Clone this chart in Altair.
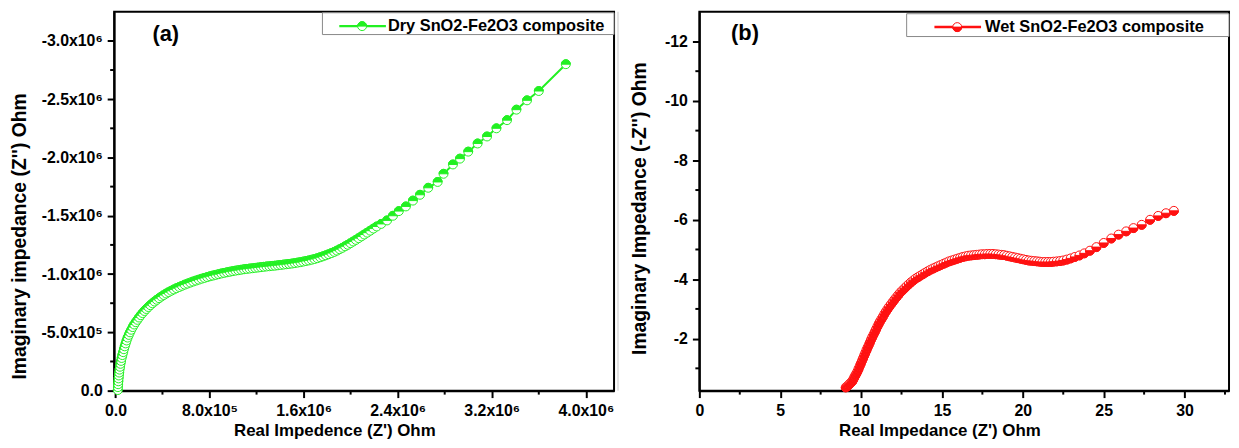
import altair as alt
import pandas as pd

FONT = "Liberation Sans"

# ---------------- data ----------------
# Dry composite: Z' and Z'' in units of 10^6 Ohm
dry_re_M = [0.020, 0.021, 0.023, 0.025, 0.027, 0.029,
            0.032, 0.035, 0.039, 0.043, 0.048, 0.053, 0.059, 0.066, 0.072, 0.079, 0.087, 0.095, 0.104,
            0.114, 0.124, 0.135, 0.147, 0.160, 0.173, 0.187, 0.201, 0.216, 0.231, 0.247, 0.263, 0.280,
            0.297, 0.315, 0.333, 0.352, 0.371, 0.391, 0.411, 0.432, 0.453, 0.475, 0.497, 0.520, 0.543,
            0.566, 0.589, 0.613, 0.637, 0.661, 0.685, 0.709, 0.733, 0.757, 0.781, 0.805, 0.829, 0.853,
            0.877, 0.901, 0.925, 0.949, 0.973, 0.997,
            1.021, 1.045, 1.069, 1.093, 1.117, 1.141, 1.165, 1.189, 1.213, 1.237, 1.261, 1.285, 1.309,
            1.333, 1.357, 1.381, 1.405, 1.429, 1.453, 1.477, 1.501, 1.525, 1.549, 1.573, 1.597, 1.621,
            1.645, 1.669, 1.693, 1.717, 1.741, 1.765, 1.789, 1.813, 1.837, 1.861,
            1.884, 1.907, 1.930, 1.953, 1.976, 1.999, 2.022, 2.045, 2.068, 2.092, 2.116, 2.141, 2.167,
            2.194, 2.222,
            2.260, 2.310, 2.360, 2.410, 2.470, 2.530, 2.590, 2.660, 2.740, 2.790, 2.870, 2.930, 3.000,
            3.080, 3.160, 3.240, 3.330, 3.410, 3.500, 3.600, 3.830]
dry_im_M = [-0.005, -0.030, -0.055, -0.080, -0.105, -0.130,
            -0.155, -0.180, -0.205, -0.230, -0.255, -0.280, -0.305, -0.330, -0.355, -0.380, -0.405, -0.430, -0.455,
            -0.478, -0.500, -0.522, -0.545, -0.567, -0.587, -0.607, -0.627, -0.647, -0.665, -0.683, -0.700, -0.717,
            -0.733, -0.749, -0.764, -0.779, -0.793, -0.807, -0.820, -0.833, -0.845, -0.857, -0.868, -0.879, -0.889,
            -0.899, -0.909, -0.918, -0.927, -0.936, -0.944, -0.952, -0.960, -0.967, -0.974, -0.981, -0.987, -0.993,
            -0.999, -1.005, -1.010, -1.015, -1.020, -1.025,
            -1.029, -1.033, -1.037, -1.041, -1.044, -1.047, -1.050, -1.053, -1.056, -1.059, -1.062, -1.065, -1.067,
            -1.070, -1.072, -1.075, -1.078, -1.081, -1.084, -1.087, -1.090, -1.094, -1.098, -1.102, -1.107, -1.112,
            -1.117, -1.123, -1.129, -1.136, -1.144, -1.152, -1.161, -1.170, -1.180, -1.190,
            -1.201, -1.213, -1.225, -1.238, -1.251, -1.265, -1.279, -1.293, -1.308, -1.323, -1.339, -1.355, -1.372,
            -1.390, -1.408,
            -1.430, -1.460, -1.500, -1.540, -1.580, -1.630, -1.680, -1.740, -1.790, -1.860, -1.940, -1.990, -2.050,
            -2.120, -2.180, -2.250, -2.320, -2.410, -2.490, -2.570, -2.800]

# Wet composite: Z' and -Z'' in Ohm
wet_re = [9.05, 9.12, 9.19, 9.26, 9.33, 9.40, 9.46, 9.52, 9.58, 9.64, 9.70, 9.77, 9.84, 9.91, 9.98,
          10.05, 10.12, 10.19, 10.26, 10.33, 10.40, 10.47, 10.54, 10.61, 10.69,
          10.77, 10.85, 10.93, 11.01, 11.09, 11.17, 11.26, 11.35, 11.44, 11.53, 11.63, 11.73, 11.84, 11.95,
          12.06, 12.18, 12.30, 12.42, 12.55, 12.68, 12.81, 12.95, 13.09, 13.23, 13.37,
          13.52, 13.67, 13.82, 13.97, 14.13, 14.29, 14.45, 14.61, 14.77, 14.93, 15.10, 15.27, 15.44, 15.61,
          15.78, 15.95, 16.12, 16.29, 16.46, 16.63, 16.80, 16.97, 17.14, 17.31, 17.48,
          17.65, 17.82, 17.99, 18.16, 18.33, 18.50, 18.67, 18.84, 19.01, 19.18, 19.35, 19.52, 19.69, 19.86,
          20.03, 20.20, 20.37, 20.54, 20.71, 20.88, 21.05, 21.22, 21.39, 21.56, 21.73, 21.90,
          22.10, 22.30, 22.50, 22.72, 22.96, 23.22, 23.50, 23.80, 24.15, 24.55, 25.00, 25.47, 25.92, 26.39,
          26.84, 27.35, 27.87, 28.37, 28.85, 29.34]
wet_im = [-0.36, -0.39, -0.42, -0.46, -0.50, -0.53, -0.57, -0.63, -0.70, -0.76, -0.82, -0.89, -0.98, -1.07, -1.16,
          -1.25, -1.34, -1.43, -1.52, -1.61, -1.70, -1.78, -1.87, -1.96, -2.05,
          -2.14, -2.23, -2.32, -2.41, -2.50, -2.58, -2.66, -2.74, -2.83, -2.91, -2.99, -3.07, -3.15, -3.23,
          -3.31, -3.39, -3.47, -3.55, -3.62, -3.69, -3.76, -3.83, -3.90, -3.96, -4.02,
          -4.07, -4.12, -4.17, -4.22, -4.27, -4.32, -4.36, -4.40, -4.44, -4.48, -4.52, -4.56, -4.60, -4.63,
          -4.66, -4.69, -4.72, -4.75, -4.77, -4.79, -4.80, -4.81, -4.82, -4.83, -4.84,
          -4.84, -4.85, -4.85, -4.85, -4.84, -4.83, -4.82, -4.81, -4.79, -4.77, -4.75, -4.73, -4.71, -4.69,
          -4.67, -4.65, -4.63, -4.62, -4.61, -4.60, -4.59, -4.58, -4.58, -4.58, -4.58, -4.59,
          -4.60, -4.61, -4.63, -4.66, -4.70, -4.75, -4.80, -4.87, -4.96, -5.08, -5.22, -5.37, -5.50, -5.61,
          -5.72, -5.83, -6.00, -6.13, -6.22, -6.30]

# ticks
dry_xticks = [0, 0.8e6, 1.6e6, 2.4e6, 3.2e6, 4.0e6]
dry_xminor = [0.4e6, 1.2e6, 2.0e6, 2.8e6, 3.6e6]
dry_yticks = [0, -0.5e6, -1.0e6, -1.5e6, -2.0e6, -2.5e6, -3.0e6]
dry_yminor = [-0.25e6, -0.75e6, -1.25e6, -1.75e6, -2.25e6, -2.75e6]
wet_xticks = [0, 5, 10, 15, 20, 25, 30]
wet_xminor = [2.5, 7.5, 12.5, 17.5, 22.5, 27.5, 32.5]
wet_yticks = [-2, -4, -6, -8, -10, -12]
wet_yminor = [-1, -3, -5, -7, -9, -11]

# texts
dry_legend = "Dry SnO2-Fe2O3 composite"
wet_legend = "Wet SnO2-Fe2O3 composite"
dry_xtitle = "Real Impedence (Z') Ohm"
dry_ytitle = "Imaginary impedance (Z'') Ohm"
wet_xtitle = "Real Impedance (Z') Ohm"
wet_ytitle = "Imaginary Impedance (-Z'') Ohm"

GREEN = "#22f022"
RED = "#ff1010"

TOP_HALF = ("M -1 0 L -0.966 -0.259 L -0.866 -0.5 L -0.707 -0.707 L -0.5 -0.866 L -0.259 -0.966 "
            "L 0 -1 L 0.259 -0.966 L 0.5 -0.866 L 0.707 -0.707 L 0.866 -0.5 L 0.966 -0.259 L 1 0 Z")
BOT_HALF = ("M -1 0 L -0.966 0.259 L -0.866 0.5 L -0.707 0.707 L -0.5 0.866 L -0.259 0.966 "
            "L 0 1 L 0.259 0.966 L 0.5 0.866 L 0.707 0.707 L 0.866 0.5 L 0.966 0.259 L 1 0 Z")

SCI_EXPR = ("datum.value == 0 ? '0.0' : ((datum.value < 0 ? '-' : '') + "
            "(abs(datum.value) >= 1000000 ? format(abs(datum.value) / 1000000, '.1f') + 'x10\u2076' "
            ": format(abs(datum.value) / 100000, '.1f') + 'x10\u2075'))")
INT_EXPR = "(datum.value < 0 ? '-' : '') + format(abs(datum.value), 'd')"


def make_axis(values, expr, title, tx, ty, tsize):
    return alt.Axis(values=values, labelExpr=expr, title=title, grid=False, tickSize=7, tickWidth=2,
                    tickColor="black", domainColor="black", domainWidth=2, labelFont=FONT,
                    labelFontSize=16, labelFontWeight="bold", labelColor="black", labelPadding=5,
                    labelFlush=False, labelOverlap=False, titleFont=FONT, titleFontSize=tsize,
                    titleFontWeight="bold", titleColor="black", titleX=tx, titleY=ty,
                    titleBaseline="middle", titleAlign="center")


def panel(re, im, color, half, xdom, ydom, xticks, xminor, yticks, yminor, xexpr, yexpr,
          xtitle, ytitle, w, h, xtx, ytx, yty, legend, leg_box, leg_y, label, label_xy, sep=False):
    df = pd.DataFrame({"x": re, "y": im})
    df["i"] = range(len(df))
    rows = []
    for k, (a, b) in enumerate(zip(re, im)):
        rows.append({"x": a, "y": b, "shp": "circle", "fc": "white", "sc": color, "o": 2 * k})
        rows.append({"x": a, "y": b, "shp": half, "fc": color, "sc": color, "o": 2 * k + 1})
    mdf = pd.DataFrame(rows)

    xs = alt.Scale(domain=xdom, nice=False, zero=False)
    ys = alt.Scale(domain=ydom, nice=False, zero=False)
    xa = make_axis(xticks, xexpr, xtitle, xtx, 40, 17)
    ya = make_axis(yticks, yexpr, ytitle, ytx, yty, 19.5)
    X = alt.X("x:Q", scale=xs, axis=xa)
    Y = alt.Y("y:Q", scale=ys, axis=ya)

    line = alt.Chart(df).mark_line(color=color, strokeWidth=2).encode(x=X, y=Y, order="i:Q")
    pts = alt.Chart(mdf).mark_point(filled=True, size=81, strokeWidth=1, opacity=1).encode(
        x=X, y=Y,
        shape=alt.Shape("shp:N", scale=None),
        fill=alt.Fill("fc:N", scale=None),
        stroke=alt.Stroke("sc:N", scale=None),
        order=alt.Order("o:Q"),
    )
    xm = alt.Chart(pd.DataFrame({"x": xminor})).mark_rule(color="black", strokeWidth=2).encode(
        x=X, y=alt.value(h), y2=alt.value(h + 4))
    ym = alt.Chart(pd.DataFrame({"y": yminor})).mark_rule(color="black", strokeWidth=2).encode(
        y=Y, x=alt.value(-4), x2=alt.value(0))

    one = pd.DataFrame({"k": [0]})
    bx0, bx1, by0, by1, lx0, lx1, mx, tx = leg_box
    box = alt.Chart(one).mark_rect(fill="white", stroke="#888888", strokeWidth=1).encode(
        x=alt.value(bx0), x2=alt.value(bx1), y=alt.value(by0), y2=alt.value(by1))
    lline = alt.Chart(one).mark_rule(color=color, strokeWidth=2.5).encode(
        x=alt.value(lx0), x2=alt.value(lx1), y=alt.value(leg_y))
    lm = pd.DataFrame({"shp": ["circle", half], "fc": ["white", color], "o": [0, 1]})
    lpts = alt.Chart(lm).mark_point(filled=True, size=81, strokeWidth=1, opacity=1, stroke=color).encode(
        x=alt.value(mx), y=alt.value(leg_y),
        shape=alt.Shape("shp:N", scale=None),
        fill=alt.Fill("fc:N", scale=None),
        order=alt.Order("o:Q"),
    )
    ltxt = alt.Chart(pd.DataFrame({"t": [legend]})).mark_text(
        align="left", baseline="middle", font=FONT, fontSize=16.5, fontWeight="bold", color="black"
    ).encode(x=alt.value(tx), y=alt.value(leg_y), text="t:N")
    ptxt = alt.Chart(pd.DataFrame({"t": [label]})).mark_text(
        align="center", baseline="middle", font=FONT, fontSize=22, fontWeight="bold", color="black"
    ).encode(x=alt.value(label_xy[0]), y=alt.value(label_xy[1]), text="t:N")

    layers = [line, pts, xm, ym, box, lline, lpts, ltxt, ptxt]
    if sep:
        sepl = alt.Chart(one).mark_rule(color="#c8c8c8", strokeWidth=1).encode(
            x=alt.value(-82), y=alt.value(0), y2=alt.value(h))
        layers.append(sepl)
    return alt.layer(*layers).properties(width=w, height=h)


W1, W2, H = 504, 534, 382

left = panel(
    [v * 1e6 for v in dry_re_M], [v * 1e6 for v in dry_im_M], GREEN, TOP_HALF,
    [-0.011e6, 4.24e6], [0, -3.25e6], dry_xticks, dry_xminor, dry_yticks, dry_yminor,
    SCI_EXPR, SCI_EXPR, dry_xtitle, dry_ytitle, W1, H, 222, -95, 226,
    dry_legend, (210, 504, 1, 23, 227, 274, 250, 276), 14.5, "(a)", (52, 22))

right = panel(
    wet_re, wet_im, RED, BOT_HALF,
    [0, 32.75], [-0.25, -13], wet_xticks, wet_xminor, wet_yticks, wet_yminor,
    INT_EXPR, INT_EXPR, wet_xtitle, wet_ytitle, W2, H, 242, -60, 198,
    wet_legend, (209, 534, 2, 25, 237, 284, 260, 288), 15.5, "(b)", (46, 21), sep=True)

chart = alt.hconcat(left, right, spacing=86, bounds="flush").properties(
    padding=0
).configure_view(stroke="black", strokeWidth=2)

chart.save("out.html", embed_options={"renderer": "svg", "actions": False})
